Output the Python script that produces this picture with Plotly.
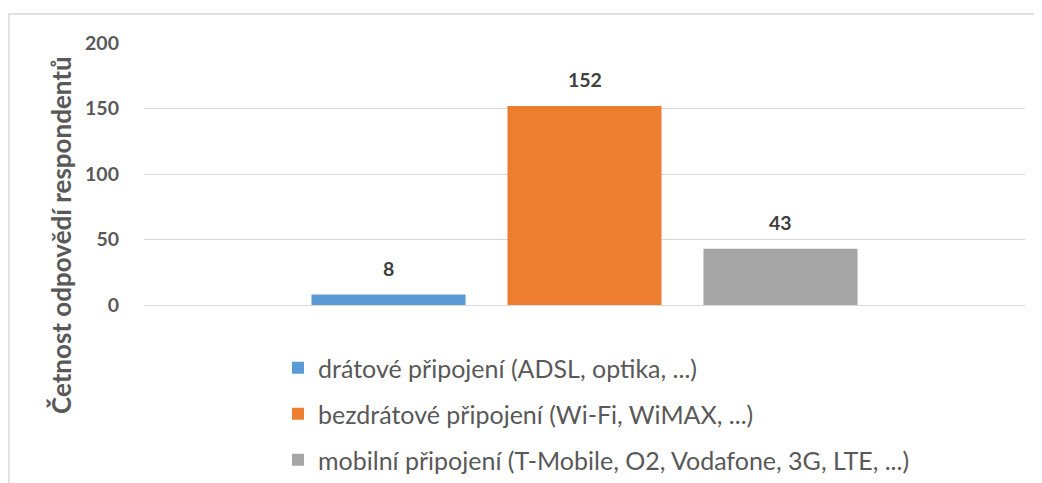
import plotly.graph_objects as go

series_names = [
    "drátové připojení (ADSL, optika, ...)",
    "bezdrátové připojení (Wi-Fi, WiMAX, ...)",
    "mobilní připojení (T-Mobile, O2, Vodafone, 3G, LTE, ...)",
]
series_values = [8, 152, 43]
series_colors = ["#5b9bd5", "#ed7d31", "#a5a5a5"]
y_ticks = [0, 50, 100, 150, 200]
y_title = "Četnost odpovědí respondentů"

FONT = "Lato"
# page body has an 8px margin, so the figure is 8px smaller than the window
W, H = 1034, 475
L, T = 136, 35          # plot area left/top in figure pixels
PW, PH = 881, 262       # plot area size

fig = go.Figure()
for i, (name, val, col) in enumerate(zip(series_names, series_values, series_colors)):
    fig.add_trace(go.Bar(
        x=[name], y=[val], name=name, legendgroup=f"g{i}",
        marker=dict(color=col, line=dict(width=0)),
    ))
    fig.add_annotation(
        x=name, y=val, xref="x", yref="y", text=f"<b>{val}</b>",
        showarrow=False, yanchor="middle", yshift=26,
        font=dict(family=FONT, size=19.5, color="#404040"),
    )

fig.add_annotation(
    xref="paper", yref="paper", x=(53 - L) / PW, y=(T + PH - 227) / PH,
    text="<b>" + y_title + "</b>", textangle=-90, showarrow=False,
    xanchor="center", yanchor="middle",
    font=dict(family=FONT, size=26, color="#595959"),
)

fig.update_layout(
    width=W, height=H,
    margin=dict(l=L, r=W - L - PW, t=T, b=H - T - PH, autoexpand=False),
    paper_bgcolor="white", plot_bgcolor="white",
    barmode="overlay", bargap=0.214,
    font=dict(family=FONT, color="#595959"),
    showlegend=True,
    legend=dict(
        orientation="v", xref="container", yref="container",
        x=270 / W, xanchor="left", y=1 - 337 / H, yanchor="top",
        font=dict(family=FONT, size=25, color="#595959"),
        tracegroupgap=10.5, bgcolor="rgba(0,0,0,0)",
    ),
    xaxis=dict(type="category", range=[-1.2474, 3.2474], showticklabels=False,
               showgrid=False, zeroline=False, showline=False, ticks=""),
    yaxis=dict(range=[0, 200], tickvals=y_ticks, showgrid=True, gridcolor="#d9d9d9",
               gridwidth=1, zeroline=True, zerolinecolor="#d9d9d9", zerolinewidth=1,
               showline=False, ticks="", automargin=False,
               tickfont=dict(family=FONT, size=19.5, color="#595959", weight="bold"),
               ticklabelstandoff=24),
    shapes=[dict(type="rect", xref="paper", yref="paper",
                 x0=(1 - L) / PW, x1=(1033 - L) / PW,
                 y0=-1.0, y1=(T + PH - 6) / PH,
                 line=dict(color="#d9d9d9", width=1.5), fillcolor="rgba(0,0,0,0)",
                 layer="below")],
)

fig.write_html("out.html")
